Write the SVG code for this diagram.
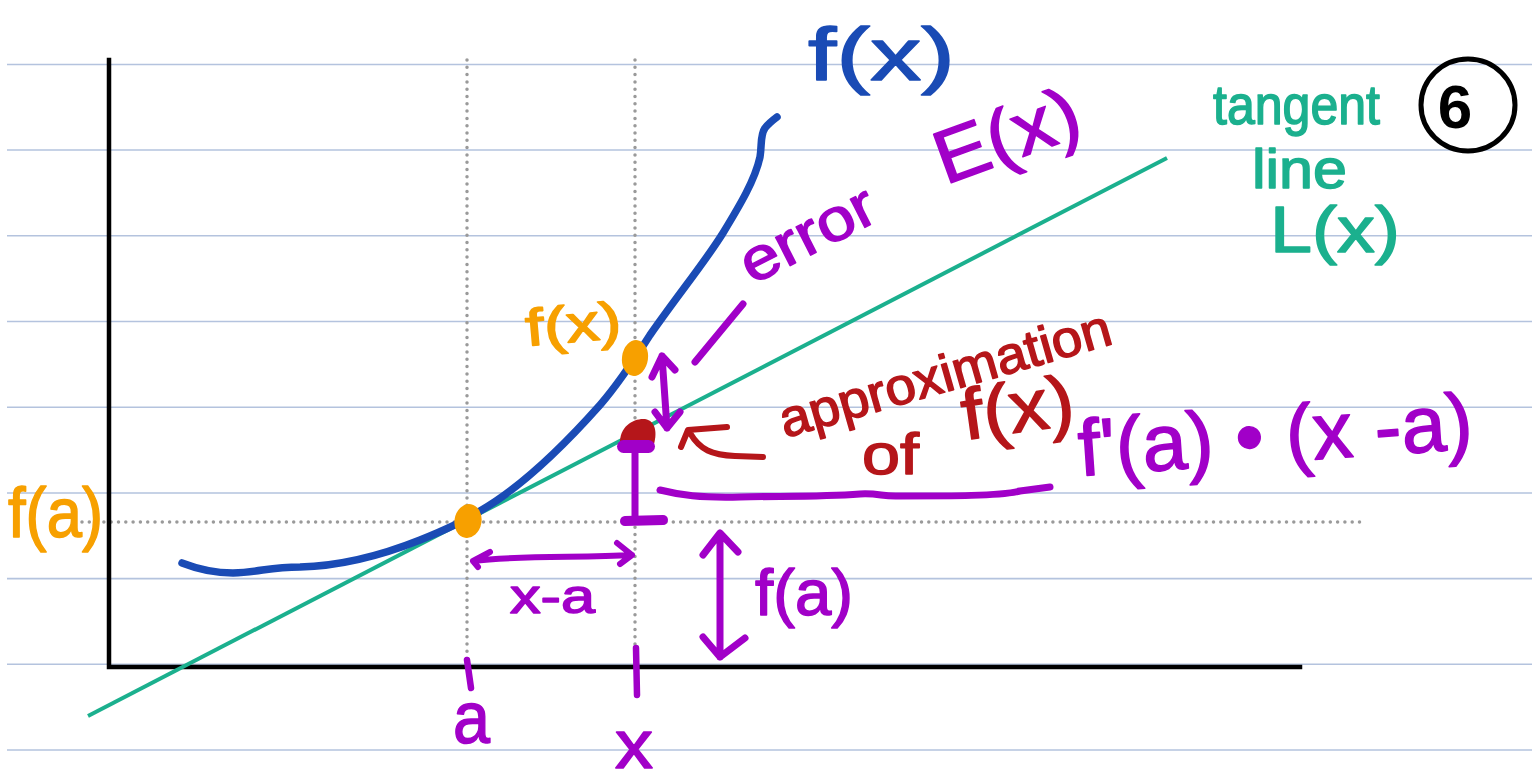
<svg xmlns="http://www.w3.org/2000/svg" width="1532" height="783" viewBox="0 0 1532 783">
<style>
.rule{stroke:#b4c3de;stroke-width:1.6;fill:none}
.axis{stroke:#000;stroke-width:4.5;fill:none;stroke-linecap:square}
.dot{stroke:#9a9a9a;stroke-width:3.5;fill:none;stroke-linecap:round;stroke-dasharray:0 7.3}
.pen{fill:none;stroke-linecap:round;stroke-linejoin:round}
.pur{stroke:#a100c8}
.red{stroke:#b5161a}
.t{font-family:"Liberation Sans","DejaVu Sans",sans-serif;stroke-width:1.5;stroke-linejoin:round}
.tp{fill:#a100c8;stroke:#a100c8}
.tr{fill:#b5161a;stroke:#b5161a}
.to{fill:#f7a000;stroke:#f7a000}
.tb{fill:#1a4bb5;stroke:#1a4bb5}
.tg{fill:#1bb08e;stroke:#1bb08e}
</style>
<rect width="1532" height="783" fill="#fff"/>
<g id="paper">
<path class="rule" d="M7,64.5H1532M7,150H1532M7,235.7H1532M7,321.5H1532M7,407.2H1532M7,493H1532M7,578.6H1532M7,664.3H1532M7,750H1532"/>
</g>
<g id="guides">
<path class="dot" d="M467,60V662M635,60V662M82,522H1365"/>
</g>
<g id="axes">
<path class="axis" d="M109,60V667M109,667H1300"/>
</g>
<g id="connectors">
<path id="tangent-line" d="M88,716L1167,158" stroke="#1bb08e" stroke-width="4" fill="none"/>
<path id="curve" class="pen" stroke="#1a4bb5" stroke-width="7.5" d="M182,563C200,570 215,573 233,573C260,572 270,567 300,567C340,566 380,556 420,540C450,528 466,520 480,511C520,488 560,450 600,405C620,382 636,357 650,335C680,292 705,262 723,233C740,205 755,180 760,157C762,145 760,135 765,128C769,123 773,120 777,117"/>
<path id="error-arrow" class="pen pur" stroke-width="7" d="M662,356L667,428M652,377L662,356L675,370M655,412L667,428L680,412"/>
<path id="error-slash" class="pen pur" stroke-width="7" d="M695,362L743,304"/>
<path id="approx-arrow" class="pen red" stroke-width="6" d="M681,447L688,430L727,427M690,433C700,450 712,455 735,456L763,457"/>
<path id="brace" class="pen pur" stroke-width="7" d="M660,490C680,495 700,498 740,497C780,496 820,497 860,494C880,493 882,497 900,496C950,496 1000,496 1020,491L1050,487"/>
<path id="ibar" class="pen pur" stroke-width="7" d="M635,450V521"/>
<path class="pen pur" stroke-width="10" d="M625,521L663,520"/>
<path id="xa-arrow" class="pen pur" stroke-width="6" d="M473,561C520,555 580,558 632,555M490,552L473,561L478,567M617,543L632,555L620,564"/>
<path id="fa-arrow" class="pen pur" stroke-width="7" d="M720,535L720,657M703,555L720,533L738,552M703,637L720,657L745,638"/>
<path id="ticks" class="pen pur" stroke-width="6.5" d="M467,660L471,688M636,648L637,695"/>
</g>
<g id="point-a">
<ellipse cx="468" cy="521" rx="13.5" ry="17" fill="#f7a000" transform="rotate(10 468 521)"/>
</g>
<g id="point-fx">
<ellipse cx="635" cy="358" rx="13" ry="18" fill="#f7a000" transform="rotate(8 635 358)"/>
</g>
<g id="point-L">
<path d="M620,444C619,426 634,418 645,419C656,421 657,433 654,444Z" fill="#b5161a"/>
<rect x="617" y="440" width="38" height="13" rx="6.5" fill="#a100c8"/>
</g>
<g id="labels">
<text class="t tb" x="808" y="80" font-size="75" textLength="147" lengthAdjust="spacingAndGlyphs">f(x)</text>
<text class="t tg" x="1213" y="124" font-size="55" textLength="167" lengthAdjust="spacingAndGlyphs">tangent</text>
<text class="t tg" x="1252" y="188" font-size="56" textLength="95" lengthAdjust="spacingAndGlyphs">line</text>
<text class="t tg" x="1270" y="252" font-size="64" textLength="130" lengthAdjust="spacingAndGlyphs">L(x)</text>
<g id="badge">
<ellipse cx="1468" cy="105" rx="47" ry="46" fill="none" stroke="#000" stroke-width="5"/>
<text x="1455" y="128" font-family="Liberation Sans, sans-serif" font-weight="bold" font-size="62" text-anchor="middle" fill="#000">6</text>
</g>
<text class="t tp" transform="translate(945,185) rotate(-20)" font-size="75" textLength="150" lengthAdjust="spacingAndGlyphs">E(x)</text>
<text class="t tp" transform="translate(752,285) rotate(-27)" font-size="60" textLength="145" lengthAdjust="spacingAndGlyphs">error</text>
<text class="t tr" transform="translate(785,438) rotate(-16)" font-size="52" textLength="343" lengthAdjust="spacingAndGlyphs">approximation</text>
<text class="t tr" x="862" y="474" font-size="58" textLength="57" lengthAdjust="spacingAndGlyphs">of</text>
<text class="t tr" transform="translate(965,440) rotate(-8)" font-size="72" textLength="113" lengthAdjust="spacingAndGlyphs">f(x)</text>
<text class="t tp" transform="translate(1080,476) rotate(-4)" font-size="80" textLength="395" lengthAdjust="spacingAndGlyphs">f'(a) • (x -a)</text>
<text class="t to" transform="translate(527,346) rotate(-5)" font-size="52" textLength="96" lengthAdjust="spacingAndGlyphs">f(x)</text>
<text class="t to" x="8" y="537" font-size="70" textLength="95" lengthAdjust="spacingAndGlyphs">f(a)</text>
<text class="t tp" x="510" y="613" font-size="48" textLength="85" lengthAdjust="spacingAndGlyphs">x-a</text>
<text class="t tp" x="755" y="615" font-size="65" textLength="98" lengthAdjust="spacingAndGlyphs">f(a)</text>
<text class="t tp" x="453" y="743" font-size="75" textLength="37" lengthAdjust="spacingAndGlyphs">a</text>
<text class="t tp" x="615" y="768" font-size="68" textLength="38" lengthAdjust="spacingAndGlyphs">x</text>
</g>
</svg>
